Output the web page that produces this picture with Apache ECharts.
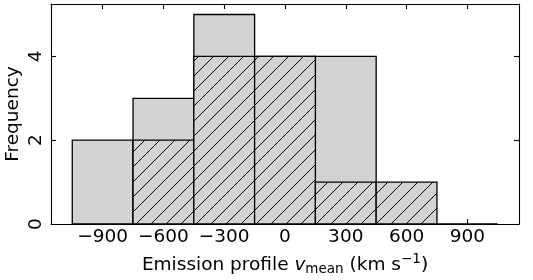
<!DOCTYPE html>
<html><head><meta charset="utf-8">
<script src="https://cdn.jsdelivr.net/npm/echarts@6/dist/echarts.min.js"></script>
<style>html,body{margin:0;padding:0;background:#fff}#c{width:533px;height:280px}</style>
</head><body><div id="c"></div>
<script>
var binEdges = [-1050, -750, -450, -150, 150, 450, 750, 1050];
var allCounts = [2, 3, 5, 4, 4, 0, 0];
var hatchCounts = [0, 2, 4, 4, 1, 1, 0];
var xTicks = [-900, -600, -300, 0, 300, 600, 900];
var yTicks = [0, 2, 4];
var xRange = [-1155, 1155];
var yRange = [0, 5.25];

function binData(counts) {
  var d = [];
  for (var i = 0; i < counts.length; i++) d.push([binEdges[i], binEdges[i + 1], counts[i]]);
  return d;
}
var tile = document.createElement('canvas');
tile.width = 15; tile.height = 15;
var cx = tile.getContext('2d');
cx.fillStyle = '#d3d3d3'; cx.fillRect(0, 0, 15, 15);
cx.strokeStyle = '#000'; cx.lineWidth = 1;
[[-15, 0], [0, 0], [15, 0]].forEach(function (o) {
  cx.beginPath(); cx.moveTo(-1 + o[0], 16); cx.lineTo(16 + o[0], -1); cx.stroke();
});
var pattern = { image: tile, repeat: 'repeat' };

function makeRender(fill) {
  return function (params, api) {
    var p0 = api.coord([api.value(0), api.value(2)]);
    var p1 = api.coord([api.value(1), 0]);
    return {
      type: 'rect',
      shape: { x: p0[0], y: p0[1], width: p1[0] - p0[0], height: p1[1] - p0[1] },
      style: { fill: fill, stroke: '#000', lineWidth: 1.3 }
    };
  };
}
var fmt = function (v) { return String(v).replace('-', '\u2212'); };
var font = 'DejaVu Sans';
var fs = 18.5;
var fsSmall = 13.5;
var lh = 26;
var chart = echarts.init(document.getElementById('c'), null, { renderer: 'canvas' });
chart.setOption({
  animation: false,
  textStyle: { fontFamily: font },
  grid: { left: 51, right: 14, top: 4, bottom: 56, outerBoundsMode: 'none', containLabel: false },
  xAxis: [{
    type: 'value', min: xRange[0], max: xRange[1], position: 'bottom',
    axisLine: { show: true, onZero: false, lineStyle: { color: '#000', width: 1.1 } },
    axisTick: { show: true, inside: true, length: 5, customValues: xTicks, lineStyle: { color: '#000', width: 1.1 } },
    axisLabel: { customValues: xTicks, formatter: fmt, color: '#000', fontSize: fs, fontFamily: font, margin: 4 },
    splitLine: { show: false },
    name: '{t|Emission profile }{i|v}{s|mean}{t| (km s}{p|\u22121}{t|)}',
    nameLocation: 'middle', nameGap: 28, nameMoveOverlap: false,
    nameTextStyle: {
      color: '#000', fontFamily: font, fontSize: fs,
      rich: {
        t: { fontSize: fs, fontFamily: font, color: '#000', lineHeight: lh },
        i: { fontSize: fs, fontFamily: font, fontStyle: 'italic', color: '#000', lineHeight: lh },
        s: { fontSize: fsSmall, fontFamily: font, color: '#000', padding: [9, 0, 0, 0], lineHeight: lh },
        p: { fontSize: fsSmall, fontFamily: font, color: '#000', padding: [0, 0, 12, 0], lineHeight: lh }
      }
    }
  }, {
    type: 'value', min: xRange[0], max: xRange[1], position: 'top',
    axisLine: { show: true, onZero: false, lineStyle: { color: '#000', width: 1.1 } },
    axisTick: { show: true, inside: true, length: 5, customValues: xTicks, lineStyle: { color: '#000', width: 1.1 } },
    axisLabel: { show: false }, splitLine: { show: false }
  }],
  yAxis: [{
    type: 'value', min: yRange[0], max: yRange[1], position: 'left',
    axisLine: { show: true, onZero: false, lineStyle: { color: '#000', width: 1.1 } },
    axisTick: { show: true, inside: true, length: 5, customValues: yTicks, lineStyle: { color: '#000', width: 1.1 } },
    axisLabel: { customValues: yTicks, rotate: 90, color: '#000', fontSize: fs, fontFamily: font, margin: 5 },
    splitLine: { show: false },
    name: 'Frequency', nameLocation: 'middle', nameGap: 28, nameRotate: 90, nameMoveOverlap: false,
    nameTextStyle: { color: '#000', fontSize: fs, fontFamily: font }
  }, {
    type: 'value', min: yRange[0], max: yRange[1], position: 'right',
    axisLine: { show: true, onZero: false, lineStyle: { color: '#000', width: 1.1 } },
    axisTick: { show: true, inside: true, length: 5, customValues: yTicks, lineStyle: { color: '#000', width: 1.1 } },
    axisLabel: { show: false }, splitLine: { show: false }
  }],
  series: [{
    type: 'custom', xAxisIndex: 0, yAxisIndex: 0, z: 2,
    renderItem: makeRender('#d3d3d3'), data: binData(allCounts), clip: false
  }, {
    type: 'custom', xAxisIndex: 0, yAxisIndex: 0, z: 3,
    renderItem: makeRender(pattern), data: binData(hatchCounts).filter(function (d) { return d[2] > 0; }), clip: false
  }]
});
</script></body></html>
